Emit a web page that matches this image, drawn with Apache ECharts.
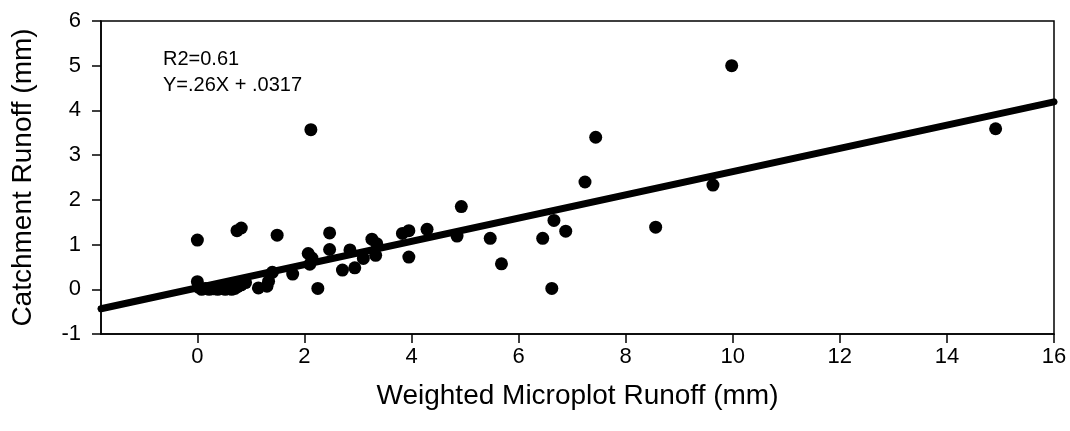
<!DOCTYPE html>
<html>
<head>
<meta charset="utf-8">
<script src="https://cdn.jsdelivr.net/npm/echarts@6/dist/echarts.min.js"></script>
<style>
    html, body { margin: 0; padding: 0; background: #fff; }
    #chart { width: 1070px; height: 431px; }
</style>
</head>
<body>
<div id="chart"></div>
<script>
// microplot runoff (x) vs catchment runoff (y), mm
var microplot = [
    0.00, 0.00, 0.02, 0.08, 0.15, 0.22, 0.30, 0.38, 0.45, 0.52, 0.58, 0.64, 0.70, 0.75, 0.82, 0.90,
    0.74, 0.82, 1.49, 1.14, 1.30, 1.33, 1.40, 1.78, 2.07, 2.10, 2.14, 2.12, 2.25, 2.47, 2.47,
    2.71, 2.85, 2.94, 3.10, 3.26, 3.35, 3.33, 3.83, 3.95, 3.95, 4.29, 4.85, 4.93, 5.47, 5.68,
    6.45, 6.62, 6.66, 6.88, 7.24, 7.44, 8.56, 9.63, 9.98, 14.91
];
var catchment = [
    1.10, 0.17, 0.05, 0.00, 0.02, 0.00, 0.01, 0.00, 0.02, 0.00, 0.03, 0.00, 0.02, 0.06, 0.10, 0.15,
    1.31, 1.37, 1.21, 0.03, 0.07, 0.18, 0.38, 0.34, 0.80, 0.56, 0.70, 3.57, 0.02, 1.26, 0.89,
    0.43, 0.88, 0.48, 0.69, 1.12, 1.02, 0.76, 1.25, 1.31, 0.72, 1.34, 1.19, 1.85, 1.14, 0.57,
    1.14, 0.02, 1.54, 1.30, 2.40, 3.40, 1.39, 2.33, 5.00, 3.59
];
var xTicks = [0, 2, 4, 6, 8, 10, 12, 14, 16];
var xRange = [-1.8, 16];
var fitSlope = 0.26;
var fitIntercept = 0.0317;
var noteLines = ['R2=0.61', 'Y=.26X + .0317'];

var font = 'Liberation Sans, Arial, sans-serif';

var points = microplot.map(function(x, i) { return [x, catchment[i]]; });
var fitLine = xRange.map(function(x) { return [x, fitSlope * x + fitIntercept]; });

var myChart = echarts.init(document.getElementById('chart'));
var option = {
    animation: false,
    backgroundColor: '#fff',
    grid: {
        left: 101,
        right: 16,
        top: 21,
        bottom: 97,
        outerBoundsMode: 'none',
        containLabel: false,
        show: true,
        borderColor: '#000',
        borderWidth: 1.5
    },
    xAxis: {
        type: 'value',
        min: xRange[0],
        max: xRange[1],
        name: 'Weighted Microplot Runoff (mm)',
        nameLocation: 'middle',
        nameGap: 48,
        nameTextStyle: { fontFamily: font, fontSize: 28, color: '#000' },
        splitLine: { show: false },
        axisLine: { onZero: false, lineStyle: { color: '#000', width: 1.5 } },
        axisTick: { customValues: xTicks, length: 9, lineStyle: { color: '#000', width: 1.5 } },
        axisLabel: { customValues: xTicks, margin: 12, fontFamily: font, fontSize: 22, color: '#000' }
    },
    yAxis: {
        type: 'value',
        min: -1,
        max: 6,
        interval: 1,
        name: 'Catchment Runoff (mm)',
        nameLocation: 'middle',
        nameGap: 64,
        nameTextStyle: { fontFamily: font, fontSize: 28, color: '#000' },
        splitLine: { show: false },
        axisLine: { show: true, onZero: false, lineStyle: { color: '#000', width: 1.5 } },
        axisTick: { show: true, length: 9, lineStyle: { color: '#000', width: 1.5 } },
        axisLabel: { margin: 20, fontFamily: font, fontSize: 22, color: '#000' }
    },
    graphic: [{
        type: 'text',
        left: 163,
        top: 46,
        style: {
            text: noteLines.join('\n'),
            font: '20px ' + font,
            fill: '#000',
            lineHeight: 26
        }
    }],
    series: [{
        name: 'fit',
        type: 'line',
        data: fitLine,
        symbol: 'none',
        lineStyle: { color: '#000', width: 7, cap: 'round' },
        z: 2
    }, {
        name: 'obs',
        type: 'scatter',
        data: points,
        symbol: 'circle',
        symbolSize: 13,
        itemStyle: { color: '#000', opacity: 1 },
        z: 3
    }]
};
myChart.setOption(option);
</script>
</body>
</html>
